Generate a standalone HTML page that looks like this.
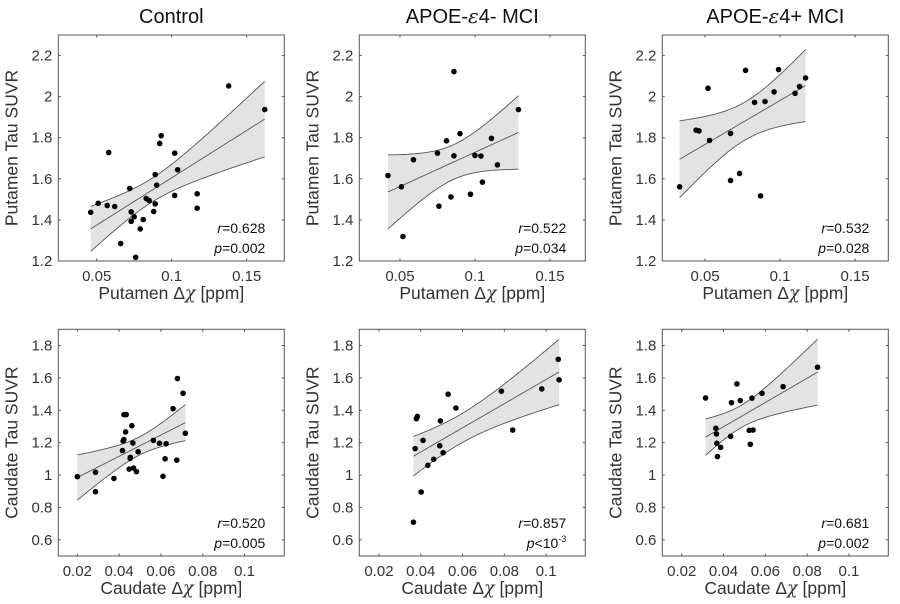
<!DOCTYPE html>
<html><head><meta charset="utf-8">
<style>
html,body{margin:0;padding:0;background:#fff;}
svg{display:block;font-family:"Liberation Sans",Arial,sans-serif;}
</style></head>
<body>
<svg id="fig" width="900" height="604" viewBox="0 0 900 604"></svg>
<script>
// ---- data ----
const ctrlPutX=[0.046,0.051,0.057,0.058,0.062,0.066,0.072,0.073,0.073,0.075,0.076,0.079,0.081,0.083,0.085,0.088,0.089,0.089,0.090,0.092,0.093,0.102,0.102,0.104,0.117,0.117,0.138,0.162];
const ctrlPutY=[1.437,1.481,1.470,1.728,1.465,1.285,1.553,1.439,1.393,1.415,1.218,1.356,1.402,1.504,1.494,1.441,1.621,1.478,1.569,1.772,1.810,1.725,1.519,1.644,1.527,1.457,2.052,1.937];
const negPutX=[0.042,0.051,0.052,0.059,0.075,0.076,0.081,0.084,0.086,0.086,0.090,0.097,0.100,0.104,0.105,0.111,0.115,0.129];
const negPutY=[1.616,1.561,1.319,1.693,1.725,1.467,1.785,1.512,2.122,1.712,1.820,1.525,1.714,1.711,1.584,1.797,1.668,1.937];
const posPutX=[0.033,0.044,0.046,0.052,0.053,0.067,0.067,0.073,0.077,0.083,0.087,0.090,0.096,0.099,0.110,0.113,0.117];
const posPutY=[1.561,1.837,1.833,2.041,1.787,1.821,1.592,1.626,2.128,1.972,1.517,1.976,2.023,2.132,2.016,2.049,2.091];
const ctrlCauX=[0.020,0.0287,0.0287,0.0375,0.0416,0.0419,0.0423,0.0423,0.0434,0.0431,0.0448,0.0453,0.0454,0.0461,0.0466,0.0469,0.0483,0.0491,0.0564,0.0593,0.0610,0.0620,0.0625,0.0658,0.0676,0.0679,0.0706,0.0717];
const ctrlCauY=[0.990,1.017,0.897,0.979,1.151,1.210,1.219,1.373,1.373,1.266,1.037,1.103,1.109,1.305,1.198,1.043,1.021,1.144,1.214,1.196,0.992,1.100,1.193,1.410,1.092,1.596,1.505,1.258];
const negCauX=[0.0365,0.0373,0.0379,0.0384,0.0402,0.0411,0.0434,0.0462,0.0491,0.0494,0.0507,0.0531,0.0568,0.0786,0.0840,0.0979,0.1058,0.1062];
const negCauY=[0.709,1.163,1.348,1.362,0.895,1.214,1.060,1.097,1.181,1.334,1.138,1.499,1.414,1.518,1.278,1.532,1.715,1.588];
const posCauX=[0.0314,0.0363,0.0366,0.0368,0.0371,0.0386,0.0434,0.0438,0.0464,0.0480,0.0523,0.0528,0.0536,0.0541,0.0584,0.0685,0.0850];
const posCauY=[1.476,1.289,1.254,1.196,1.114,1.171,1.239,1.447,1.563,1.460,1.276,1.190,1.475,1.278,1.505,1.546,1.666];
const titles=["Control","APOE-\u03b54- MCI","APOE-\u03b54+ MCI"];
const putXTicks=[0.05,0.1,0.15];
const putYTicks=[1.2,1.4,1.6,1.8,2,2.2];
const cauXTicks=[0.02,0.04,0.06,0.08,0.1];
const cauYTicks=[0.6,0.8,1,1.2,1.4,1.6,1.8];
const rLabels=["0.628","0.522","0.532","0.520","0.857","0.681"];
const pLabels=["0.002","0.034","0.028","0.005","<10-3","0.002"];

const NS="http://www.w3.org/2000/svg";
const svg=document.getElementById('fig');
function mk(tag,attrs,parent){const e=document.createElementNS(NS,tag);for(const k in attrs)e.setAttribute(k,attrs[k]);(parent||svg).appendChild(e);return e;}

const colL=[58.3,359.3,662.3];
const W=226;
const panels=[
 {col:0,row:0,x:ctrlPutX,y:ctrlPutY,xmin:0.0244},
 {col:1,row:0,x:negPutX,y:negPutY,xmin:0.0229},
 {col:2,row:0,x:posPutX,y:posPutY,xmin:0.0215},
 {col:0,row:1,x:ctrlCauX,y:ctrlCauY,xmin:0.0109},
 {col:1,row:1,x:negCauX,y:negCauY,xmin:0.0106},
 {col:2,row:1,x:posCauX,y:posCauY,xmin:0.0107}
];

titles.forEach((t,i)=>{
  const tx=mk('text',{x:colL[i]+W/2,y:23,'text-anchor':'middle','font-size':20,fill:'#111'});
  
  
  if(i===0){tx.textContent=t;}
  else{
    const parts=t.split('\u03b5');
    tx.appendChild(document.createTextNode(parts[0]));
    const ep=mk('tspan',{'font-style':'italic','font-family':'"DejaVu Serif",serif'},tx);ep.textContent='\u03b5';
    tx.appendChild(document.createTextNode(parts[1]));
  }
});

panels.forEach((p,idx)=>{
  const g=mk('g',{});
  
  
  const L=colL[p.col];
  const top=p.row===0?35:329.3, bot=p.row===0?261:556;
  const ymin=p.row===0?1.2:0.5, ymax=p.row===0?2.3:1.9;
  const pxPerX=p.row===0?1500:2090;
  const xs=v=>L+(v-p.xmin)*pxPerX;
  const ys=v=>bot-(v-ymin)/(ymax-ymin)*(bot-top);
  const n=p.x.length;
  const mx=p.x.reduce((a,b)=>a+b,0)/n, my=p.y.reduce((a,b)=>a+b,0)/n;
  let sxx=0,sxy=0;for(let i=0;i<n;i++){sxx+=(p.x[i]-mx)**2;sxy+=(p.x[i]-mx)*(p.y[i]-my);}
  const b=sxy/sxx,a=my-b*mx;
  let sse=0;for(let i=0;i<n;i++)sse+=(p.y[i]-a-b*p.x[i])**2;
  const s=Math.sqrt(sse/(n-2));
  const t=1.96+2.4/(n-2);
  const x0=Math.min(...p.x),x1=Math.max(...p.x);
  const up=[],lo=[],mid=[];
  for(let k=0;k<=60;k++){
    const xv=x0+(x1-x0)*k/60;
    const yh=a+b*xv;
    const se=s*Math.sqrt(1/n+(xv-mx)**2/sxx);
    up.push([xs(xv),ys(yh+t*se)]);lo.push([xs(xv),ys(yh-t*se)]);mid.push([xs(xv),ys(yh)]);
  }
  const band=mk('path',{d:'M'+up.map(q=>q.join(',')).join('L')+'L'+lo.slice().reverse().map(q=>q.join(',')).join('L')+'Z',fill:'#e3e3e3',stroke:'none'},g);
  
  
  [up,lo].forEach((arr,j)=>{
    const l=mk('path',{d:'M'+arr.map(q=>q.join(',')).join('L'),fill:'none',stroke:'#555','stroke-width':0.9},g);
    
    
  });
  const fl=mk('path',{d:'M'+mid.map(q=>q.join(',')).join('L'),fill:'none',stroke:'#555','stroke-width':0.9},g);
  
  
  for(let i=0;i<n;i++){
    const c=mk('circle',{cx:xs(p.x[i]),cy:ys(p.y[i]),r:2.8,fill:'#000'},g);
    
    
  }
  const box=mk('rect',{x:L,y:top,width:W,height:bot-top,fill:'none',stroke:'#555','stroke-width':1},g);
  
  
  const xt=p.row===0?putXTicks:cauXTicks, yt=p.row===0?putYTicks:cauYTicks;
  const tl=2.5;
  xt.forEach(v=>{
    const X=xs(v);
    mk('line',{x1:X,y1:bot,x2:X,y2:bot-tl,stroke:'#555'},g);
    mk('line',{x1:X,y1:top,x2:X,y2:top+tl,stroke:'#555'},g);
    const tx=mk('text',{x:X,y:bot+20,'text-anchor':'middle','font-size':15,fill:'#333'},g);
    
    
    tx.textContent=String(v);
  });
  yt.forEach(v=>{
    const Y=ys(v);
    mk('line',{x1:L,y1:Y,x2:L+tl,y2:Y,stroke:'#555'},g);
    mk('line',{x1:L+W,y1:Y,x2:L+W-tl,y2:Y,stroke:'#555'},g);
    const tx=mk('text',{x:L-6,y:Y+5,'text-anchor':'end','font-size':15,fill:'#333'},g);
    
    
    tx.textContent=String(v);
  });
  const region=p.row===0?'Putamen':'Caudate';
  const xl=mk('text',{x:L+W/2,y:bot+38,'text-anchor':'middle','font-size':17.5,fill:'#333'},g);
  
  
  xl.appendChild(document.createTextNode(region+' \u0394'));
  const chi=mk('tspan',{'font-style':'italic','font-family':'"DejaVu Serif",serif'},xl);chi.textContent='\u03c7';
  xl.appendChild(document.createTextNode(' [ppm]'));
  const cy=(top+bot)/2;
  const yl=mk('text',{x:0,y:0,transform:`translate(${L-41},${cy}) rotate(-90)`,'text-anchor':'middle','font-size':17.5,fill:'#333'},g);
  
  
  yl.textContent=region+' Tau SUVR';
  const rt=mk('text',{x:L+W-19,y:bot-28,'text-anchor':'end','font-size':14,fill:'#111'},g);
  
  
  const ri=mk('tspan',{'font-style':'italic'},rt);ri.textContent='r';
  rt.appendChild(document.createTextNode('='+rLabels[idx]));
  const pt=mk('text',{x:L+W-19,y:bot-8,'text-anchor':'end','font-size':14,fill:'#111'},g);
  
  
  const pi=mk('tspan',{'font-style':'italic'},pt);pi.textContent='p';
  const pl=pLabels[idx];
  if(pl.indexOf('<10')===0){
    pt.appendChild(document.createTextNode('<10'));
    const sup=mk('tspan',{'font-size':9,dy:-6},pt);sup.textContent='-3';
  } else pt.appendChild(document.createTextNode('='+pl));
});
</script>
</body></html>
